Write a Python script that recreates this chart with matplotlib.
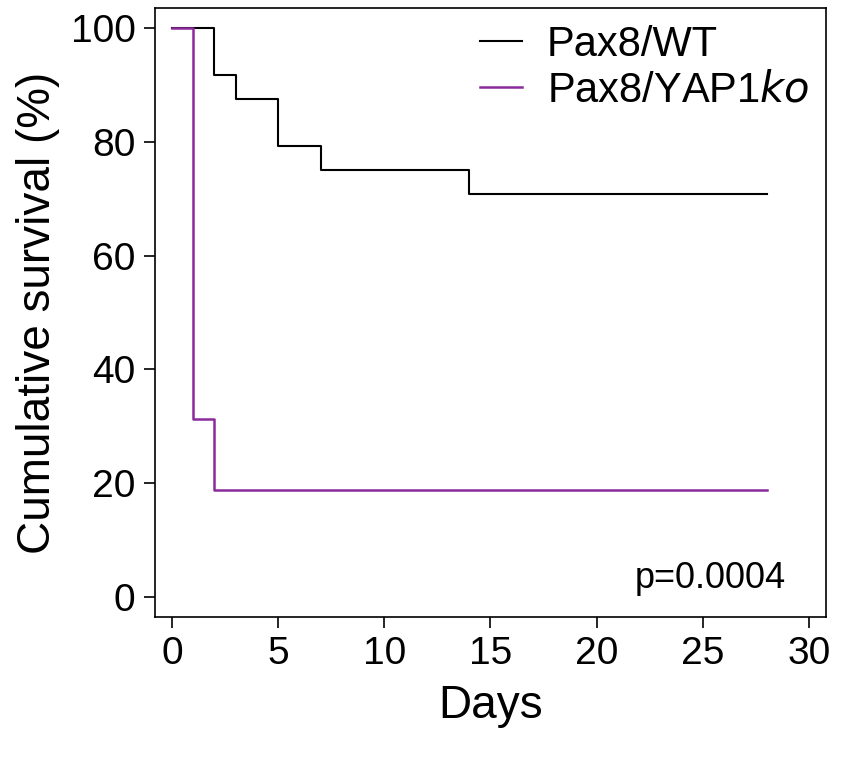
import matplotlib
matplotlib.use("Agg")
import matplotlib.pyplot as plt

wt_days = [0, 2, 3, 5, 7, 14, 28]
wt_surv = [100, 91.7, 87.5, 79.2, 75.0, 70.8, 70.8]
ko_days = [0, 1, 2, 28]
ko_surv = [100, 31.25, 18.75, 18.75]
xticks = [0, 5, 10, 15, 20, 25, 30]
yticks = [0, 20, 40, 60, 80, 100]

plt.rcParams["font.family"] = "Liberation Sans"
fig = plt.figure(figsize=(8.49, 7.6), dpi=100)
ax = fig.add_axes([155/849, 1-617/760, (826-155)/849, (617-8)/760])
ax.step(wt_days, wt_surv, where="post", color="black", lw=1.5, label="Pax8/WT")
ax.step(ko_days, ko_surv, where="post", color="#8B2A9B", lw=1.8, label="Pax8/YAP1$\\it{ko}$")
ax.set_xlim(-0.8, 30.8)
ax.set_ylim(-3.5, 103.5)
ax.set_xticks(xticks)
ax.set_yticks(yticks)
ax.tick_params(labelsize=28, length=8, width=1.2, pad=6)
for s in ax.spines.values():
    s.set_linewidth(1.2)
ax.set_xlabel("Days", fontsize=33, labelpad=8)
ax.set_ylabel("Cumulative survival (%)", fontsize=33, labelpad=8)
ax.legend(loc="upper right", fontsize=30, frameon=False, handlelength=1.0,
          handletextpad=0.6, borderaxespad=0.0, labelspacing=0.15)
ax.text(0.94, 0.035, "p=0.0004", transform=ax.transAxes, ha="right", va="bottom", fontsize=26)
fig.savefig("out.png", dpi=100)
